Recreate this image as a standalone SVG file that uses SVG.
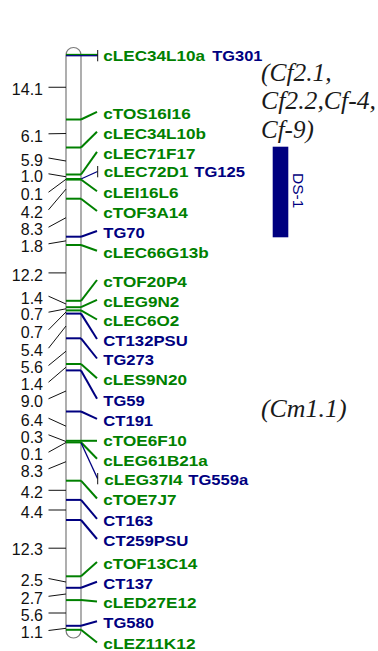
<svg xmlns="http://www.w3.org/2000/svg" width="378" height="651" viewBox="0 0 378 651">
<style>
.lbl{font-family:"Liberation Sans",Arial,sans-serif;font-weight:bold;font-size:15px}
.g{fill:#008000}.b{fill:#000080}
.num{font-family:"Liberation Sans",Arial,sans-serif;font-size:16px;fill:#111;text-anchor:end}
.bg{stroke:#008000;stroke-width:2;fill:none}
.bb{stroke:#000080;stroke-width:2;fill:none}
.tg{stroke:#008000;stroke-width:1.3;fill:none}
.tb{stroke:#000080;stroke-width:1.3;fill:none}
.tk{stroke:#111;stroke-width:1;fill:none}
.qtl{font-family:"Liberation Serif","Times New Roman",serif;font-style:italic;font-size:25px;fill:#1a1a1a}
</style>
<rect width="378" height="651" fill="#fff"/>
<g id="chromosome">
<path d="M66,55 A7.5,7.5 0 0 1 81,55 L81,630.5 A7.5,7.5 0 0 1 66,630.5 Z" fill="#fff" stroke="#7a7a7a" stroke-width="1.2"/>
</g>
<g id="distance-ticks" class="tk">
<path d="M48.5,87.25 L66,87.25"/>
<path d="M48.5,133.8 L66,133.5"/>
<path d="M48.5,158 L66,161"/>
<path d="M48.5,173.8 L66,176.75"/>
<path d="M48.5,192.2 L66,179.25"/>
<path d="M48.5,209.8 L66,189.1"/>
<path d="M48.5,227.2 L66,217.7"/>
<path d="M48.5,243.8 L66,240.85"/>
<path d="M48.5,272.9 L66,272.9"/>
<path d="M48.5,296.2 L66,304"/>
<path d="M48.5,312.2 L66,308.8"/>
<path d="M48.5,329.8 L66,312"/>
<path d="M48.5,348.2 L66,326"/>
<path d="M48.5,365.5 L66,351.2"/>
<path d="M48.5,382.2 L66,367.2"/>
<path d="M48.5,398.8 L66,391"/>
<path d="M48.5,418.2 L66,426.2"/>
<path d="M48.5,434.8 L66,441.5"/>
<path d="M48.5,452.2 L66,442.5"/>
<path d="M48.5,468.8 L66,461.7"/>
<path d="M48.5,490.3 L66,490.3"/>
<path d="M48.5,510 L66,510"/>
<path d="M48.5,548.2 L66,548.2"/>
<path d="M48.5,578.5 L66,582"/>
<path d="M48.5,596.3 L66,594"/>
<path d="M48.5,613 L66,613"/>
<path d="M48.5,630.5 L66,628.3"/>
</g>
<g id="distances" class="num">
<text x="43" y="95">14.1</text>
<text x="43" y="141.6">6.1</text>
<text x="43" y="165.8">5.9</text>
<text x="43" y="181.6">1.0</text>
<text x="43" y="200">0.1</text>
<text x="43" y="217.6">4.2</text>
<text x="43" y="235">8.3</text>
<text x="43" y="251.6">1.8</text>
<text x="43" y="280.6">12.2</text>
<text x="43" y="304">1.4</text>
<text x="43" y="320">0.7</text>
<text x="43" y="337.6">0.7</text>
<text x="43" y="356">5.4</text>
<text x="43" y="373.3">5.6</text>
<text x="43" y="390">1.4</text>
<text x="43" y="406.6">9.0</text>
<text x="43" y="426">6.4</text>
<text x="43" y="442.6">0.3</text>
<text x="43" y="460">0.1</text>
<text x="43" y="476.6">8.3</text>
<text x="43" y="498.3">4.2</text>
<text x="43" y="517.5">4.4</text>
<text x="43" y="555">12.3</text>
<text x="43" y="586.3">2.5</text>
<text x="43" y="604.1">2.7</text>
<text x="43" y="621.3">5.6</text>
<text x="43" y="638.3">1.1</text>
</g>
<g id="connectors">
<path class="tg" d="M66,54.5 L97.7,54.5"/>
<path class="tb" d="M66,55.7 L97.7,55.7"/>
<path class="tk" d="M97.7,50 L97.7,61.3"/>
<path class="bg" d="M81,119.5 L97,111.8"/>
<path class="bg" d="M81,147.5 L97,131.8"/>
<path class="bg" d="M81,174.5 L97,151.8"/>
<path class="tb" d="M81,179 L97.5,171.5"/>
<path class="tk" d="M97.7,166 L97.7,177.3"/>
<path class="bg" d="M81,179.5 L97,191.3"/>
<path class="bg" d="M81,198.7 L97,211"/>
<path class="bb" d="M81,236.7 L97,231"/>
<path class="bg" d="M81,245 L97,250.8"/>
<path class="bg" d="M81,300.8 L97,280"/>
<path class="bg" d="M81,307.2 L97,299.8"/>
<path class="bg" d="M81,310.4 L97,319.5"/>
<path class="bb" d="M81,313.6 L97,339"/>
<path class="bb" d="M81,338.3 L97,358.5"/>
<path class="bg" d="M81,364 L97,378.3"/>
<path class="bb" d="M81,370.4 L97,398.8"/>
<path class="bb" d="M81,411.5 L97,418.8"/>
<path class="bg" d="M81,440.8 L97,440.8"/>
<path class="bg" d="M81,442.2 L97,458.8"/>
<path class="tb" d="M81,442.7 L97.5,478.5"/>
<path class="tk" d="M97.7,473 L97.7,484.3"/>
<path class="bg" d="M81,480.7 L97,498.5"/>
<path class="bb" d="M81,499.9 L97,518.8"/>
<path class="bb" d="M81,520 L97,539"/>
<path class="bg" d="M81,576.3 L97,562"/>
<path class="bb" d="M81,587.8 L97,581.8"/>
<path class="bg" d="M81,600.1 L97,601.5"/>
<path class="bb" d="M81,625.8 L97,621.3"/>
<path class="bg" d="M81,629.8 L97,642.5"/>
</g>
<g id="m-cLEC34L10a-TG301"><text class="lbl g" x="103.3" y="61.4" textLength="101.7" lengthAdjust="spacingAndGlyphs">cLEC34L10a</text><text class="lbl b" x="212.3" y="61.4" textLength="50.2" lengthAdjust="spacingAndGlyphs">TG301</text></g>
<g id="m-cTOS16I16"><path class="bg" d="M66,119.5H81"/><text class="lbl g" x="103.3" y="118.7" textLength="87.4" lengthAdjust="spacingAndGlyphs">cTOS16I16</text></g>
<g id="m-cLEC34L10b"><path class="bg" d="M66,147.5H81"/><text class="lbl g" x="103.3" y="138.7" textLength="102.6" lengthAdjust="spacingAndGlyphs">cLEC34L10b</text></g>
<g id="m-cLEC71F17"><path class="bg" d="M66,174.5H81"/><text class="lbl g" x="103.3" y="158.7" textLength="92.2" lengthAdjust="spacingAndGlyphs">cLEC71F17</text></g>
<g id="m-cLEC72D1-TG125"><path class="bg" d="M66,179H81"/><text class="lbl g" x="103.8" y="177.4" textLength="84.6" lengthAdjust="spacingAndGlyphs">cLEC72D1</text><text class="lbl b" x="194.3" y="177.4" textLength="50.7" lengthAdjust="spacingAndGlyphs">TG125</text></g>
<g id="m-cLEI16L6"><path class="bg" d="M66,179.6H81"/><text class="lbl g" x="103.3" y="198.2" textLength="75.1" lengthAdjust="spacingAndGlyphs">cLEI16L6</text></g>
<g id="m-cTOF3A14"><path class="bg" d="M66,198.7H81"/><text class="lbl g" x="103.3" y="217.9" textLength="84.6" lengthAdjust="spacingAndGlyphs">cTOF3A14</text></g>
<g id="m-TG70"><path class="bb" d="M66,236.7H81"/><text class="lbl b" x="103.3" y="237.9" textLength="41.5" lengthAdjust="spacingAndGlyphs">TG70</text></g>
<g id="m-cLEC66G13b"><path class="bg" d="M66,245H81"/><text class="lbl g" x="103.3" y="257.7" textLength="105.5" lengthAdjust="spacingAndGlyphs">cLEC66G13b</text></g>
<g id="m-cTOF20P4"><path class="bg" d="M66,300.8H81"/><text class="lbl g" x="103.3" y="286.9" textLength="83.6" lengthAdjust="spacingAndGlyphs">cTOF20P4</text></g>
<g id="m-cLEG9N2"><path class="bg" d="M66,307.2H81"/><text class="lbl g" x="103.3" y="306.7" textLength="76" lengthAdjust="spacingAndGlyphs">cLEG9N2</text></g>
<g id="m-cLEC6O2"><path class="bg" d="M66,310.4H81"/><text class="lbl g" x="103.3" y="326.4" textLength="76" lengthAdjust="spacingAndGlyphs">cLEC6O2</text></g>
<g id="m-CT132PSU"><path class="bb" d="M66,313.6H81"/><text class="lbl b" x="103.3" y="345.9" textLength="84.5" lengthAdjust="spacingAndGlyphs">CT132PSU</text></g>
<g id="m-TG273"><path class="bb" d="M66,338.3H81"/><text class="lbl b" x="103.3" y="365.4" textLength="50.7" lengthAdjust="spacingAndGlyphs">TG273</text></g>
<g id="m-cLES9N20"><path class="bg" d="M66,364H81"/><text class="lbl g" x="103.3" y="385.2" textLength="83.6" lengthAdjust="spacingAndGlyphs">cLES9N20</text></g>
<g id="m-TG59"><path class="bb" d="M66,370.4H81"/><text class="lbl b" x="103.3" y="405.7" textLength="41.5" lengthAdjust="spacingAndGlyphs">TG59</text></g>
<g id="m-CT191"><path class="bb" d="M66,411.5H81"/><text class="lbl b" x="103.3" y="425.7" textLength="49.8" lengthAdjust="spacingAndGlyphs">CT191</text></g>
<g id="m-cTOE6F10"><path class="bg" d="M66,440.8H81"/><text class="lbl g" x="103.3" y="446.1" textLength="83.6" lengthAdjust="spacingAndGlyphs">cTOE6F10</text></g>
<g id="m-cLEG61B21a"><path class="bg" d="M66,442.4H81"/><text class="lbl g" x="103.3" y="465.7" textLength="104.5" lengthAdjust="spacingAndGlyphs">cLEG61B21a</text></g>
<g id="m-cLEG37I4-TG559a"><text class="lbl g" x="104.3" y="485.4" textLength="78.2" lengthAdjust="spacingAndGlyphs">cLEG37I4</text><text class="lbl b" x="188.3" y="485.4" textLength="60" lengthAdjust="spacingAndGlyphs">TG559a</text></g>
<g id="m-cTOE7J7"><path class="bg" d="M66,480.7H81"/><text class="lbl g" x="103.3" y="505.4" textLength="73.2" lengthAdjust="spacingAndGlyphs">cTOE7J7</text></g>
<g id="m-CT163"><path class="bb" d="M66,499.9H81"/><text class="lbl b" x="103.3" y="525.7" textLength="49.8" lengthAdjust="spacingAndGlyphs">CT163</text></g>
<g id="m-CT259PSU"><path class="bb" d="M66,520H81"/><text class="lbl b" x="103.3" y="545.9" textLength="85" lengthAdjust="spacingAndGlyphs">CT259PSU</text></g>
<g id="m-cTOF13C14"><path class="bg" d="M66,576.3H81"/><text class="lbl g" x="103.3" y="568.9" textLength="94.1" lengthAdjust="spacingAndGlyphs">cTOF13C14</text></g>
<g id="m-CT137"><path class="bb" d="M66,587.8H81"/><text class="lbl b" x="103.3" y="588.7" textLength="49.8" lengthAdjust="spacingAndGlyphs">CT137</text></g>
<g id="m-cLED27E12"><path class="bg" d="M66,600.1H81"/><text class="lbl g" x="103.3" y="608.4" textLength="93.1" lengthAdjust="spacingAndGlyphs">cLED27E12</text></g>
<g id="m-TG580"><path class="bb" d="M66,625.8H81"/><text class="lbl b" x="103.3" y="628.2" textLength="50.7" lengthAdjust="spacingAndGlyphs">TG580</text></g>
<g id="m-cLEZ11K12"><path class="bg" d="M66,629.8H81"/><text class="lbl g" x="103.3" y="649.4" textLength="92.2" lengthAdjust="spacingAndGlyphs">cLEZ11K12</text></g>
<g id="qtl-cf">
<text class="qtl" x="261" y="80.5" textLength="70.7" lengthAdjust="spacingAndGlyphs">(Cf2.1,</text>
<text class="qtl" x="261" y="109" textLength="115" lengthAdjust="spacingAndGlyphs">Cf2.2,Cf-4,</text>
<text class="qtl" x="261" y="137.5">Cf-9)</text>
</g>
<g id="qtl-cm"><text class="qtl" x="261" y="416.5" textLength="85.5" lengthAdjust="spacingAndGlyphs">(Cm1.1)</text></g>
<g id="ds-1">
<rect x="272.7" y="146.7" width="15.6" height="90.6" fill="#000080"/>
<text transform="translate(293,173) rotate(90)" x="0" y="0" font-family="Liberation Sans, Arial, sans-serif" font-size="15.5" fill="#000080">DS-1</text>
</g>
</svg>
